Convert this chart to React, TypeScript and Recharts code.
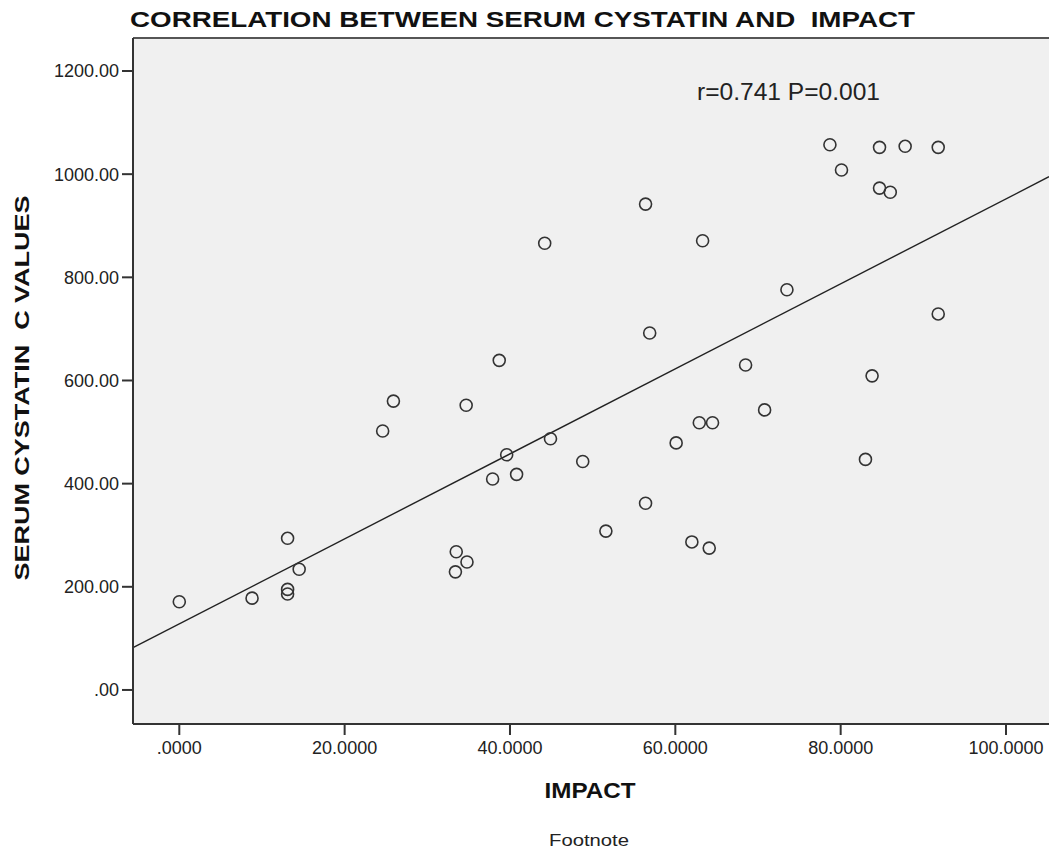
import { ScatterChart, Scatter, XAxis, YAxis, CartesianGrid, ReferenceLine } from 'recharts';

// IMPACT score vs serum cystatin C value
const impact = [
  0, 8.8, 13.1, 13.1, 13.1, 14.5, 24.6, 25.9, 33.4, 33.5,
  34.7, 34.8, 37.9, 38.7, 39.6, 40.8, 44.2, 44.9, 48.8, 51.6,
  56.4, 56.4, 56.9, 60.1, 62.0, 62.9, 63.3, 64.1, 64.5, 68.5,
  70.8, 73.5, 78.7, 80.1, 83.0, 83.8, 84.7, 84.7, 86.0, 87.8,
  91.8, 91.8,
];
const cystatin = [
  171, 178, 294, 195, 186, 234, 502, 560, 229, 268,
  552, 248, 409, 639, 456, 418, 866, 487, 443, 308,
  942, 362, 692, 479, 287, 518, 871, 275, 518, 630,
  543, 776, 1057, 1008, 447, 609, 1052, 973, 965, 1054,
  1052, 729,
];

// fitted line end points (at the plot edges)
const fitLine = [
  { x: -5.6, y: 82 },
  { x: 105.2, y: 995 },
];

const xTicks = [0, 20, 40, 60, 80, 100];
const xTickLabels = ['.0000', '20.0000', '40.0000', '60.0000', '80.0000', '100.0000'];
const yTicks = [0, 200, 400, 600, 800, 1000, 1200];
const yTickLabels = ['.00', '200.00', '400.00', '600.00', '800.00', '1000.00', '1200.00'];

const title = 'CORRELATION BETWEEN SERUM CYSTATIN AND\u00a0 IMPACT';
const yTitle = 'SERUM CYSTATIN\u00a0 C VALUES';

const points = impact.map((x, i) => ({ x, y: cystatin[i] }));

const font = '"Liberation Sans", Arial, sans-serif';

const Ring = (props: any) => {
  const { cx, cy } = props;
  if (cx == null || cy == null) return null;
  return <circle cx={cx} cy={cy} r={6} fill="none" stroke="#333" strokeWidth={1.6} />;
};

export default function App() {
  return (
    <div style={{ position: 'absolute', left: 0, top: 0, width: 1049, height: 855, background: '#fff', fontFamily: font }}>
      <ScatterChart width={1049} height={855} margin={{ top: 38, right: 0, bottom: 0, left: 0 }}>
        <CartesianGrid fill="#f0f0f0" fillOpacity={1} horizontal={false} vertical={false} />
        <XAxis
          type="number"
          dataKey="x"
          domain={[-5.6, 105.2]}
          allowDataOverflow
          ticks={xTicks}
          tickFormatter={(v: number) => xTickLabels[xTicks.indexOf(v)] ?? String(v)}
          height={131}
          tickSize={11}
          tickMargin={6}
          axisLine={{ stroke: '#333', strokeWidth: 2 }}
          tickLine={{ stroke: '#333', strokeWidth: 2 }}
          tick={{ fill: '#222', fontSize: 18, fontFamily: font }}
        />
        <YAxis
          type="number"
          dataKey="y"
          domain={[-66, 1264]}
          allowDataOverflow
          ticks={yTicks}
          tickFormatter={(v: number) => yTickLabels[yTicks.indexOf(v)] ?? String(v)}
          width={133}
          tickSize={11}
          tickMargin={3}
          axisLine={{ stroke: '#333', strokeWidth: 2 }}
          tickLine={{ stroke: '#333', strokeWidth: 2 }}
          tick={{ fill: '#222', fontSize: 18, fontFamily: font }}
        />
        <ReferenceLine y={1264} stroke="#555" strokeWidth={2} />
        <ReferenceLine segment={fitLine} stroke="#222" strokeWidth={1.4} />
        <Scatter data={points} shape={Ring} isAnimationActive={false} />
      </ScatterChart>
      <svg width={1049} height={855} style={{ position: 'absolute', left: 0, top: 0, pointerEvents: 'none' }}>
        <text x={130} y={27} fontSize={22} fontWeight="bold" fill="#111" fontFamily={font} textLength={785} lengthAdjust="spacingAndGlyphs">
          {title}
        </text>
        <text
          x={0}
          y={0}
          transform="translate(29 388) rotate(-90)"
          textAnchor="middle"
          fontSize={21}
          fontWeight="bold"
          fill="#111"
          fontFamily={font}
          textLength={385}
          lengthAdjust="spacingAndGlyphs"
        >
          {yTitle}
        </text>
        <text x={590} y={798} textAnchor="middle" fontSize={22} fontWeight="bold" fill="#111" fontFamily={font} textLength={91} lengthAdjust="spacingAndGlyphs">
          IMPACT
        </text>
        <text x={697} y={100} fontSize={23} fill="#222" fontFamily={font} textLength={183} lengthAdjust="spacingAndGlyphs">
          r=0.741 P=0.001
        </text>
        <text x={589} y={846} textAnchor="middle" fontSize={17} fill="#222" fontFamily={font} textLength={80} lengthAdjust="spacingAndGlyphs">
          Footnote
        </text>
      </svg>
    </div>
  );
}
